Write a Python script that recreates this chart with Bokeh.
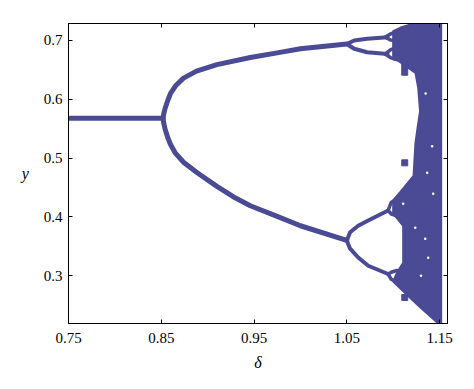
from bokeh.plotting import figure
from bokeh.models import Range1d, LinearAxis, FixedTicker, CustomLabelingPolicy
from bokeh.embed import file_html
from bokeh.resources import INLINE

# ---- data ----
fixed_d = [0.75, 0.852]
fixed_y = [0.568, 0.568]

p2_up_d = [0.852, 0.8525, 0.854, 0.857, 0.860, 0.866, 0.874, 0.888, 0.910, 0.946, 0.975, 1.000, 1.050]
p2_up_y = [0.568, 0.574, 0.584, 0.598, 0.610, 0.624, 0.636, 0.648, 0.659, 0.671, 0.679, 0.686, 0.694]

p2_lo_d = [0.852, 0.8525, 0.854, 0.857, 0.860, 0.865, 0.874, 0.888, 0.910, 0.928, 0.946, 0.975, 1.000, 1.050]
p2_lo_y = [0.568, 0.561, 0.550, 0.535, 0.523, 0.509, 0.493, 0.476, 0.452, 0.434, 0.419, 0.401, 0.385, 0.360]

p4_a_d = [1.050, 1.058, 1.072, 1.094]
p4_a_y = [0.694, 0.700, 0.703, 0.7055]
p4_b_d = [1.050, 1.058, 1.072, 1.094]
p4_b_y = [0.694, 0.686, 0.680, 0.677]
p4_c_d = [1.050, 1.0536, 1.0623, 1.0731, 1.0946]
p4_c_y = [0.360, 0.374, 0.385, 0.394, 0.411]
p4_d_d = [1.050, 1.0536, 1.0623, 1.0731, 1.0946]
p4_d_y = [0.360, 0.346, 0.331, 0.317, 0.303]

p8_d = [[1.0914, 1.097, 1.103], [1.0914, 1.097, 1.103], [1.0914, 1.097, 1.103], [1.0914, 1.097, 1.103],
        [1.0946, 1.098, 1.104], [1.0946, 1.098, 1.104], [1.0946, 1.098, 1.104], [1.0946, 1.098, 1.104]]
p8_y = [[0.7055, 0.711, 0.714], [0.7055, 0.701, 0.700], [0.677, 0.684, 0.688], [0.677, 0.671, 0.668],
        [0.411, 0.425, 0.430], [0.411, 0.405, 0.402], [0.303, 0.306, 0.309], [0.303, 0.294, 0.290]]

chaos_d = [1.100, 1.108, 1.118, 1.130, 1.1518, 1.1518, 1.1486, 1.130, 1.112, 1.100,
           1.104, 1.1108, 1.1108, 1.104, 1.100, 1.100, 1.108, 1.118, 1.122, 1.124,
           1.126, 1.129, 1.127, 1.124, 1.115, 1.106, 1.100]
chaos_y = [0.716, 0.722, 0.727, 0.729, 0.729, 0.219, 0.219, 0.245, 0.272, 0.290,
           0.305, 0.322, 0.385, 0.398, 0.405, 0.428, 0.443, 0.462, 0.470, 0.525,
           0.548, 0.580, 0.620, 0.645, 0.655, 0.665, 0.668]

dots_d = [1.1125, 1.1125, 1.1125, 1.1125]
dots_y = [0.656, 0.646, 0.492, 0.263]

holes_d = [1.1108, 1.1367, 1.1238, 1.1378, 1.1346, 1.1432, 1.1300, 1.1420, 1.1350]
holes_y = [0.4226, 0.4753, 0.3817, 0.3306, 0.363, 0.4396, 0.300, 0.520, 0.610]

x_ticks = [0.75, 0.85, 0.95, 1.05, 1.15]
y_ticks = [0.3, 0.4, 0.5, 0.6, 0.7]

COL = "#4b4a95"
FONT = "'Liberation Serif', 'Times New Roman', 'DejaVu Serif', serif"

p = figure(frame_width=379, frame_height=300, output_backend="svg", toolbar_location=None,
           x_range=Range1d(0.75, 1.1586), y_range=Range1d(0.2188, 0.7289),
           min_border_left=68, min_border_right=20, min_border_top=23, min_border_bottom=50,
           x_axis_label="δ", y_axis_label="y")
p.grid.visible = False
p.outline_line_color = "black"
p.outline_line_width = 1
p.background_fill_color = "white"
p.border_fill_color = "white"

for ax in (p.xaxis[0], p.yaxis[0]):
    ax.major_tick_in = 4
    ax.major_tick_out = 0
    ax.minor_tick_line_color = None
    ax.axis_line_color = "black"
    ax.major_label_text_font = FONT
    ax.major_label_text_font_size = "15px"
    ax.major_label_text_color = "black"
    ax.axis_label_text_font = FONT
    ax.axis_label_text_font_style = "italic"
    ax.axis_label_text_font_size = "16px"
    ax.axis_label_text_color = "black"

p.xaxis[0].ticker = FixedTicker(ticks=x_ticks)
p.yaxis[0].ticker = FixedTicker(ticks=y_ticks)
p.xaxis[0].major_label_standoff = 9
p.xaxis[0].axis_label_standoff = 8
p.yaxis[0].major_label_standoff = 6
p.yaxis[0].axis_label_standoff = 12
p.yaxis[0].axis_label_orientation = "horizontal"

no_labels = CustomLabelingPolicy(code="""
const all = Array.from(indices)
for (const i of all) indices.unset(i)
return indices
""")

top = LinearAxis(ticker=FixedTicker(ticks=x_ticks), major_tick_in=4, major_tick_out=0,
                 minor_tick_line_color=None, major_label_policy=no_labels,
                 major_label_standoff=0)
right = LinearAxis(ticker=FixedTicker(ticks=y_ticks), major_tick_in=4, major_tick_out=0,
                   minor_tick_line_color=None, major_label_policy=no_labels,
                   major_label_standoff=0)
p.add_layout(top, "above")
p.add_layout(right, "right")

p.patch(chaos_d, chaos_y, fill_color=COL, line_color=COL, line_width=2)

lw = 5
p.line(fixed_d, fixed_y, line_color=COL, line_width=lw)
p.line(p2_up_d, p2_up_y, line_color=COL, line_width=lw, line_join="round", line_cap="round")
p.line(p2_lo_d, p2_lo_y, line_color=COL, line_width=lw, line_join="round", line_cap="round")
for xs, ys in ((p4_a_d, p4_a_y), (p4_b_d, p4_b_y), (p4_c_d, p4_c_y), (p4_d_d, p4_d_y)):
    p.line(xs, ys, line_color=COL, line_width=4, line_join="round", line_cap="round")
p.multi_line(p8_d, p8_y, line_color=COL, line_width=3.5, line_join="round", line_cap="round")

p.scatter(dots_d, dots_y, size=6, marker="square", fill_color=COL, line_color=COL)
p.scatter(holes_d, holes_y, size=2.5, fill_color="white", line_color=None)

open("out.html", "w").write(file_html(p, INLINE))
